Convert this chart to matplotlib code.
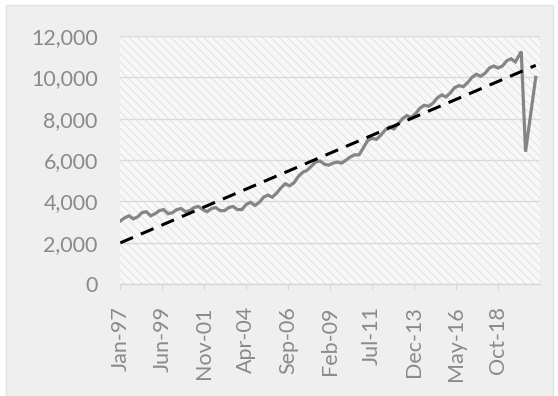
import numpy as np
import pandas as pd
import matplotlib.pyplot as plt
import matplotlib.dates as mdates
from matplotlib.patches import Rectangle

# quarterly readings Jan-97 .. Oct-19, then the 2020 points
quarter_start = "1997-01-01"
quarter_end = "2019-10-01"
values_q = [
    3050, 3200, 3300, 3150,   # 1997
    3250, 3450, 3500, 3300,   # 1998
    3400, 3550, 3600, 3400,   # 1999
    3450, 3600, 3650, 3500,   # 2000
    3550, 3700, 3750, 3600,   # 2001
    3500, 3650, 3700, 3550,   # 2002
    3550, 3700, 3750, 3600,   # 2003
    3600, 3850, 3950, 3800,   # 2004
    3950, 4200, 4300, 4200,   # 2005
    4400, 4650, 4850, 4750,   # 2006
    4900, 5200, 5400, 5500,   # 2007
    5700, 5900, 5950, 5800,   # 2008
    5750, 5850, 5900, 5850,   # 2009
    6000, 6150, 6250, 6250,   # 2010
    6600, 6950, 7050, 7000,   # 2011
    7200, 7450, 7600, 7500,   # 2012
    7750, 8000, 8150, 8050,   # 2013
    8250, 8500, 8650, 8600,   # 2014
    8750, 9000, 9150, 9050,   # 2015
    9250, 9500, 9600, 9550,   # 2016
    9750, 10000, 10150, 10050,  # 2017
    10200, 10450, 10550, 10450,  # 2018
    10550, 10800, 10900, 10750,  # 2019
]
tail_dates = ["2020-02-01", "2020-05-01", "2020-12-01"]
tail_values = [11250, 6400, 10000]

tick_start = "1997-01-01"
n_ticks = 10
y_ticks = [0, 2000, 4000, 6000, 8000, 10000, 12000]

dates = pd.date_range(quarter_start, quarter_end, freq="QS").append(pd.to_datetime(tail_dates))
values = np.array(values_q + tail_values, dtype=float)

# linear trend over the whole series
xnum = mdates.date2num(dates)
slope, icpt = np.polyfit(xnum, values, 1)
trend = slope * xnum + icpt

LABEL = "#8a8a8a"
plt.rcParams["font.family"] = ["Lato", "DejaVu Sans"]
plt.rcParams["hatch.linewidth"] = 0.6

fig = plt.figure(figsize=(5.58, 3.96), dpi=100)
fig.patch.set_facecolor("white")
panel = Rectangle((6 / 558, 0), 547 / 558, 391 / 396, transform=fig.transFigure,
                  facecolor="#efefef", edgecolor="#e2e2e2", lw=1, zorder=-5)
fig.add_artist(panel)

ax = fig.add_axes([120 / 558, 1 - 284 / 396, 420 / 558, 248 / 396])
ax.set_zorder(2)
ax.set_facecolor("none")
ax.add_patch(Rectangle((0, 0), 1, 1, transform=ax.transAxes, facecolor="#f8f8f8",
                       edgecolor="#dedede", hatch="\\\\\\\\", lw=0, zorder=0))

ax.plot(dates, values, color="#858585", lw=2.3, zorder=3, solid_joinstyle="miter")
ax.plot(dates, trend, color="black", lw=2.2, dashes=(4.5, 2.8), zorder=4)

ax.set_ylim(0, 12000)
ax.set_yticks(y_ticks)
ax.yaxis.set_major_formatter(plt.FuncFormatter(lambda v, p: f"{v:,.0f}"))
ax.set_xlim(mdates.date2num(pd.Timestamp("1996-12-25")), mdates.date2num(pd.Timestamp("2021-03-01")))
xt = pd.date_range(tick_start, periods=n_ticks, freq="29MS")
ax.set_xticks(xt)
ax.xaxis.set_major_formatter(mdates.DateFormatter("%b-%y"))

ax.grid(axis="y", color="#dadada", lw=1)
ax.set_axisbelow(True)
for s in ["top", "right", "left"]:
    ax.spines[s].set_visible(False)
ax.spines["bottom"].set_color("#d6d6d6")
ax.spines["bottom"].set_linewidth(1)

ax.tick_params(axis="y", length=0, pad=16, labelsize=15.5, labelcolor=LABEL)
ax.tick_params(axis="x", length=4, color="#d6d6d6", pad=12, labelsize=15.5,
               labelcolor=LABEL, labelrotation=90)

fig.savefig("out.png", dpi=100)
